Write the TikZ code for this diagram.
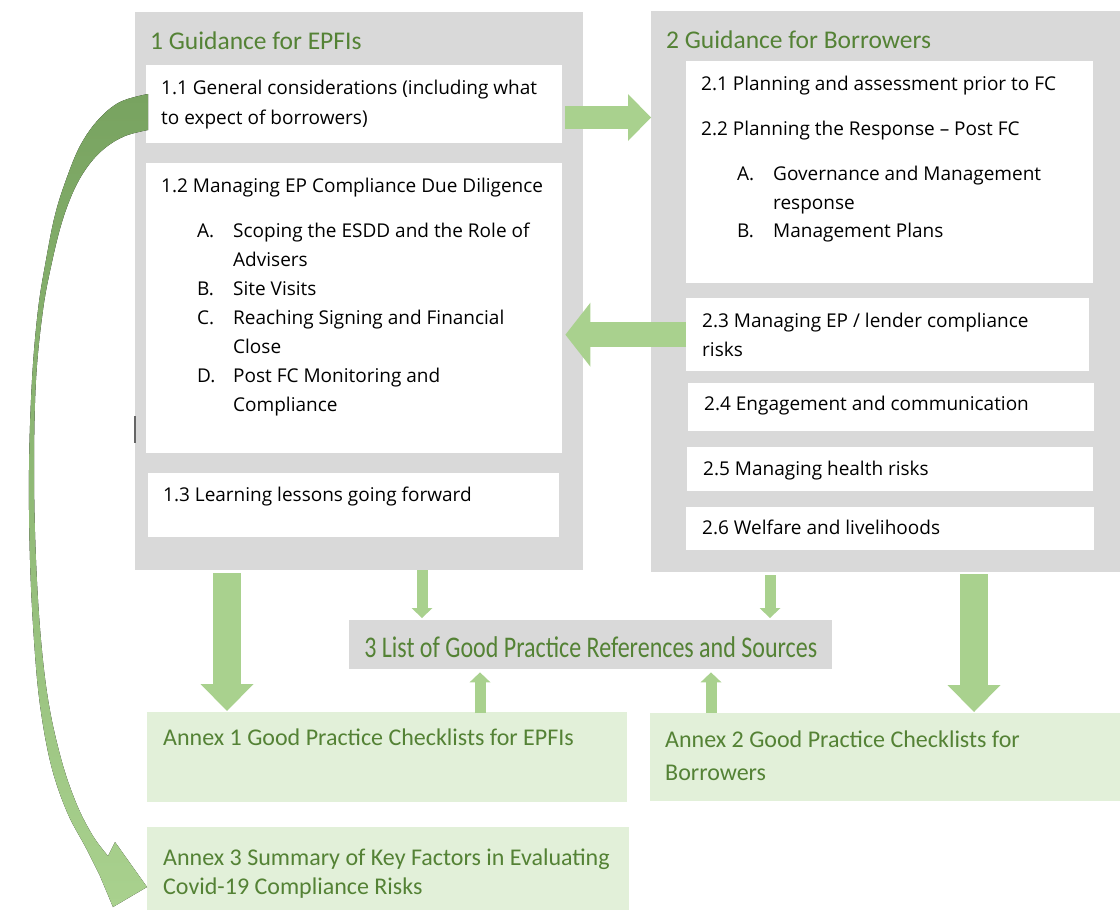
\documentclass[tikz,border=0pt]{standalone}
\usepackage{fontspec}
\setmainfont{Open Sans}
\newfontfamily\calfont{Carlito}
\usepackage{graphicx}
\usetikzlibrary{arrows.meta}
\definecolor{panelgray}{HTML}{D9D9D9}
\definecolor{annexfill}{HTML}{E2F0D9}
\definecolor{arrowgreen}{HTML}{A9D18E}
\definecolor{titlegreen}{HTML}{548235}
\definecolor{curvegreen}{HTML}{78A360}
\begin{document}
\begin{tikzpicture}[x=1pt, y=-1pt]
		\tikzstyle{panel} = [rectangle, inner sep=0pt, anchor=north west, fill=panelgray]
		\tikzstyle{card} = [rectangle, inner sep=0pt, anchor=north west, fill=white]
		\tikzstyle{annex} = [rectangle, inner sep=0pt, anchor=north west, fill=annexfill]
		\tikzstyle{txt} = [anchor=base west, inner sep=0pt, text=black, font=\fontsize{19}{23}\selectfont]
		\tikzstyle{heading} = [anchor=base west, inner sep=0pt, text=titlegreen, font=\calfont\fontsize{25.5}{30}\selectfont]
		\tikzstyle{annextxt} = [anchor=base west, inner sep=0pt, text=titlegreen, font=\calfont\fontsize{24}{30}\selectfont]
		\useasboundingbox (0,0) rectangle (1120,910);
		% panels and boxes
		\node[panel, minimum width=448pt, minimum height=558pt] (guideA) at (135,12) {};
		\node[panel, minimum width=469pt, minimum height=561pt] (guideB) at (651,11) {};
		\node[card, minimum width=416pt, minimum height=78pt] (b11) at (146,65) {};
		\node[card, minimum width=416pt, minimum height=290pt] (b12) at (146,163) {};
		\node[card, minimum width=411pt, minimum height=64pt] (b13) at (148,473) {};
		\node[card, minimum width=407pt, minimum height=222pt] (b21) at (686,61) {};
		\node[card, minimum width=403pt, minimum height=73pt] (b23) at (686,298) {};
		\node[card, minimum width=406pt, minimum height=48pt] (b24) at (688,383) {};
		\node[card, minimum width=406pt, minimum height=44pt] (b25) at (687,447) {};
		\node[card, minimum width=408pt, minimum height=43pt] (b26) at (686,507) {};
		\node[panel, minimum width=483pt, minimum height=49pt] (refs) at (349,620) {};
		\node[annex, minimum width=480pt, minimum height=90pt] (annex1) at (147,712) {};
		\node[annex, minimum width=470pt, minimum height=88pt] (annex2) at (650,713) {};
		\node[annex, minimum width=482pt, minimum height=83pt] (annex3) at (147,827) {};
		% texts
		\node[heading] (hA) at (150,49) {1 Guidance for EPFIs};
		\node[heading] (hB) at (666,48) {2 Guidance for Borrowers};
		\node[txt] (t11a) at (161,94) {1.1 General considerations (including what};
		\node[txt] (t11b) at (161,124) {to expect of borrowers)};
		\node[txt] (t12) at (161,192) {1.2 Managing EP Compliance Due Diligence};
		\node[txt] (la) at (197,237) {A.};
		\node[txt] (ta1) at (233,237) {Scoping the ESDD and the Role of};
		\node[txt] (ta2) at (233,266) {Advisers};
		\node[txt] (lb) at (197,295) {B.};
		\node[txt] (tb) at (233,295) {Site Visits};
		\node[txt] (lc) at (197,324) {C.};
		\node[txt] (tc1) at (233,324) {Reaching Signing and Financial};
		\node[txt] (tc2) at (233,353) {Close};
		\node[txt] (ld) at (197,382) {D.};
		\node[txt] (td1) at (233,382) {Post FC Monitoring and};
		\node[txt] (td2) at (233,411) {Compliance};
		\node[txt] (t13) at (163,501) {1.3 Learning lessons going forward};
		\node[txt] (t21) at (701,90) {2.1 Planning and assessment prior to FC};
		\node[txt] (t22) at (701,135) {2.2 Planning the Response – Post FC};
		\node[txt] (lga) at (737,180) {A.};
		\node[txt] (tga1) at (773,180) {Governance and Management};
		\node[txt] (tga2) at (773,209) {response};
		\node[txt] (lgb) at (737,237) {B.};
		\node[txt] (tgb) at (773,237) {Management Plans};
		\node[txt] (t23a) at (702,327) {2.3 Managing EP / lender compliance};
		\node[txt] (t23b) at (702,356) {risks};
		\node[txt] (t24) at (704,410) {2.4 Engagement and communication};
		\node[txt] (t25) at (703,475) {2.5 Managing health risks};
		\node[txt] (t26) at (702,534) {2.6 Welfare and livelihoods};
		\node[text=titlegreen, inner sep=0pt, font=\calfont\fontsize{24}{28}\selectfont] (refstxt) at ([yshift=-2pt]refs.center) {\scalebox{1}[1.25]{3 List of Good Practice References and Sources}};
		\node[annextxt] (a1) at (163,745) {Annex 1 Good Practice Checklists for EPFIs};
		\node[annextxt] (a2a) at (665,747) {Annex 2 Good Practice Checklists for};
		\node[annextxt] (a2b) at (665,780) {Borrowers};
		\node[annextxt] (a3a) at (163,865) {Annex 3 Summary of Key Factors in Evaluating};
		\node[annextxt] (a3b) at (163,894) {Covid-19 Compliance Risks};
		% block arrows
		\coordinate (r1) at (565,117.5);
		\coordinate (dA) at (227,573);
		\coordinate (dB) at (974,574);
		\coordinate (sA) at (422,570);
		\coordinate (sB) at (770,575);
		\coordinate (uA) at (480,713);
		\coordinate (uB) at (711,713);
		\draw[arrowgreen, line width=23pt, -{Triangle[length=23pt,width=47pt,line width=0pt]}] (r1) -- (r1 -| guideB.west);
		\draw[arrowgreen, line width=25pt, -{Triangle[length=25pt,width=64pt,line width=0pt]}, shorten >=3pt] (b23.west) -- (b23.west -| b12.east);
		\path[arrowgreen, line width=28pt, -{Triangle[length=27pt,width=53pt,line width=0pt]}] (dA) edge ([yshift=1pt]dA |- annex1.north)
		(dB) edge ([yshift=1pt]dB |- annex2.north);
		\path[arrowgreen, line width=11pt, -{Triangle[length=10pt,width=21pt,line width=0pt]}] (sA) edge ([yshift=2pt]sA |- refs.north)
		(sB) edge ([yshift=2pt]sB |- refs.north)
		(uA) edge ([yshift=-3pt]uA |- refs.south)
		(uB) edge ([yshift=-3pt]uB |- refs.south);
		% curved arrow to annex 3
		\fill[top color=curvegreen, bottom color=arrowgreen]
		plot[smooth, tension=0.6] coordinates {(148,94) (120,102) (98,120) (80,146) (66,180) (55,215) (46,260) (38,310) (32,380) (29,470) (30,560) (34,640) (40,705) (51,765) (67,812) (86,848) (100,876)}
		-- (113,907) -- (147,887) -- (115,842) -- (108,856)
		-- plot[smooth, tension=0.6] coordinates {(108,856) (93,836) (77,805) (62,762) (49,705) (41,640) (36,560) (34,470) (36,380) (43,310) (52,262) (62,222) (74,190) (88,166) (105,148) (125,136) (148,130)} -- cycle;
		\draw[line width=1.5pt, black!60] ([yshift=-125pt]guideA.west) -- ([yshift=-152pt]guideA.west);
		\end{tikzpicture}
\end{document}
